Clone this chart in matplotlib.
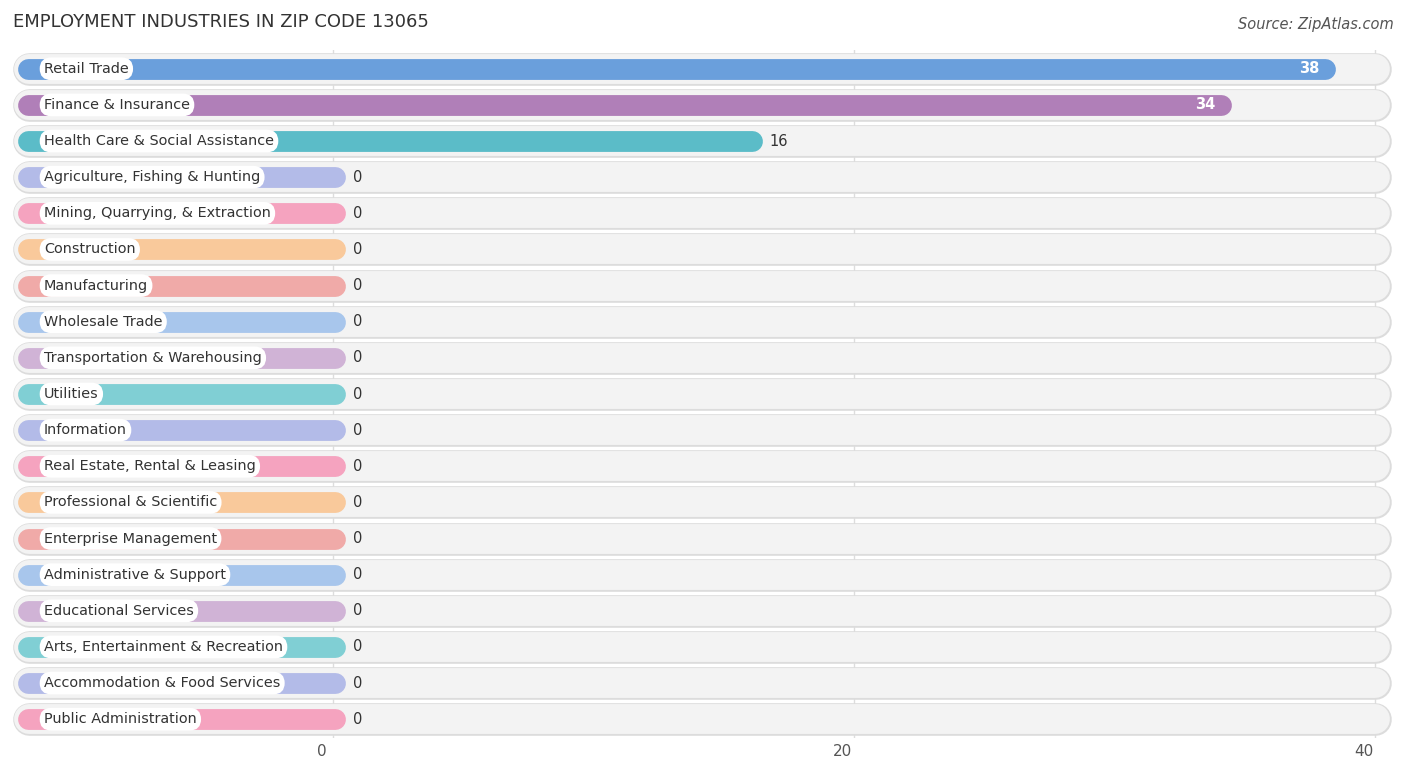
import matplotlib.pyplot as plt

categories = ["Retail Trade", "Finance & Insurance", "Health Care & Social Assistance",
              "Agriculture, Fishing & Hunting", "Mining, Quarrying, & Extraction", "Construction",
              "Manufacturing", "Wholesale Trade", "Transportation & Warehousing", "Utilities",
              "Information", "Real Estate, Rental & Leasing", "Professional & Scientific",
              "Enterprise Management", "Administrative & Support", "Educational Services",
              "Arts, Entertainment & Recreation", "Accommodation & Food Services",
              "Public Administration"]
values = [38, 34, 16, 0, 0, 0, 0, 0, 0, 0, 0, 0, 0, 0, 0, 0, 0, 0, 0]
colors = ["#6a9fdc", "#b07fb8", "#5bbcc8", "#b3bbe8", "#f5a3bf", "#f9c99b", "#f0aaa8",
          "#a8c6ec", "#d0b3d6", "#80cfd4", "#b3bbe8", "#f5a3bf", "#f9c99b", "#f0aaa8",
          "#a8c6ec", "#d0b3d6", "#80cfd4", "#b3bbe8", "#f5a3bf"]
ticks = [0, 20, 40]

W, H = 1406, 776
fig = plt.figure(figsize=(W / 100, H / 100), dpi=100)
top_px, bot_px = 50, 738
ax = fig.add_axes([0, 1 - bot_px / H, 1, (bot_px - top_px) / H])
ppu = 26.05
x0 = 333
ax.set_xlim((0 - x0) / ppu, (W - x0) / ppu)
n = len(categories)
ax.set_ylim(n - 0.5 + 0.02, -0.5 - 0.02)
for s in ax.spines.values():
    s.set_visible(False)
ax.set_yticks([])
ax.set_xticks([])

for t in ticks:
    ax.axvline(t, color="#dddddd", lw=1, zorder=0)
    fig.text((x0 + t * ppu - 11) / W, 1 - 752 / H, str(t), ha="center", va="center",
             fontsize=11, color="#555555")

bg_l = (14 + 15 - x0) / ppu
bg_r = (1390 - 15 - x0) / ppu
bar_l = (18 + 10 - x0) / ppu
cap = 10 / ppu
for i, (cat, v, c) in enumerate(zip(categories, values, colors)):
    ax.plot([bg_l, bg_r], [i, i], color="#dcdcdc", lw=23.5, solid_capstyle="round", zorder=1)
    ax.plot([bg_l, bg_r], [i, i], color="#f3f3f3", lw=21.5, solid_capstyle="round", zorder=1)
    end = max(v, 0.0)
    ax.plot([bar_l, end + 0.46 - cap], [i, i], color=c, lw=15,
            solid_capstyle="round", zorder=2)
    ax.text((44 - x0) / ppu, i, cat, ha="left", va="center", fontsize=10.4, color="#333333",
            zorder=4, bbox=dict(boxstyle="round,pad=0.3,rounding_size=0.8", fc="white",
                                ec="none"))
    if v >= 30:
        ax.text(v + 0.46 - 0.6, i, str(v), ha="right", va="center", fontsize=10.5,
                color="white", fontweight="bold", zorder=4)
    else:
        ax.text(end + 0.46 + 0.3, i, str(v), ha="left", va="center", fontsize=10.5,
                color="#333333", zorder=4)

fig.text(13 / W, 1 - 22 / H, "EMPLOYMENT INDUSTRIES IN ZIP CODE 13065", ha="left",
         va="center", fontsize=13, color="#333333")
fig.text(1394 / W, 1 - 24 / H, "Source: ZipAtlas.com", ha="right", va="center",
         fontsize=10.5, color="#555555", style="italic")

fig.savefig("out.png", dpi=100)
